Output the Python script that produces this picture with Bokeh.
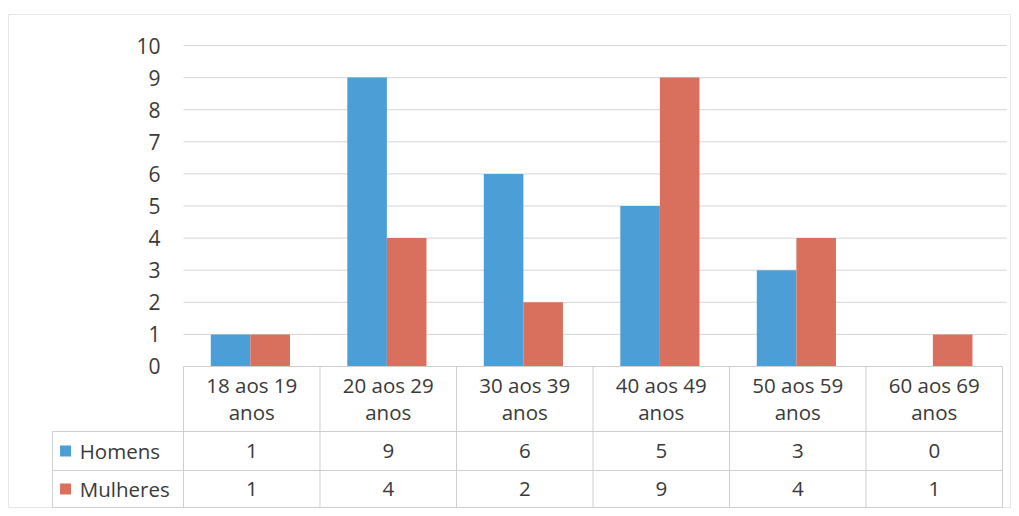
from bokeh.plotting import figure
from bokeh.models import ColumnDataSource, Range1d
from bokeh.core.properties import value
from bokeh.embed import file_html
from bokeh.resources import INLINE

# ---- data ----
categories = ["18 aos 19\nanos", "20 aos 29\nanos", "30 aos 39\nanos",
              "40 aos 49\nanos", "50 aos 59\nanos", "60 aos 69\nanos"]
series_names = ["Homens", "Mulheres"]
homens = [1, 9, 6, 5, 3, 0]
mulheres = [1, 4, 2, 9, 4, 1]
y_ticks = [0, 1, 2, 3, 4, 5, 6, 7, 8, 9, 10]

# ---- style ----
BLUE = "#4B9FD6"
RED = "#D9705E"
TXT = "#3a3a3a"
GRID = "#d6d6d6"
BORDER = "#cfcfcf"
FONT = value("Open Sans")
FS = "20.5px"

n = len(categories)
BAR_W = 0.29
CENTER = 0.49

# table geometry (in data units)
ROW1 = -2.025
ROW2 = -3.24
ROW3 = -4.39
LEFT = -0.96

p = figure(width=1011, height=508, output_backend="svg", toolbar_location=None,
           x_range=Range1d(-1.282, 6.066), y_range=Range1d(-4.424, 10.966),
           x_axis_type=None, y_axis_type=None,
           min_border_left=8, min_border_right=0, min_border_top=14, min_border_bottom=0)
p.grid.visible = False
p.outline_line_color = "#e6e6e6"
p.background_fill_color = "white"
p.border_fill_color = "white"

idx = list(range(n))

# gridlines
gy = [t for t in y_ticks if t > 0]
p.segment(x0=[0] * len(gy), x1=[n + 0.03] * len(gy), y0=gy, y1=gy,
          line_color=GRID, line_width=1)

# bars
src = ColumnDataSource(dict(
    xb=[i + CENTER - BAR_W / 2 for i in idx],
    xr=[i + CENTER + BAR_W / 2 for i in idx],
    h=homens, m=mulheres))
p.vbar(x="xb", top="h", bottom=0, width=BAR_W, source=src,
       fill_color=BLUE, line_color=None)
p.vbar(x="xr", top="m", bottom=0, width=BAR_W, source=src,
       fill_color=RED, line_color=None)

# y tick labels
p.text(x=[-0.168] * len(y_ticks), y=y_ticks, text=[str(t) for t in y_ticks],
       text_font=FONT, text_font_size="21px", text_color=TXT,
       text_align="right", text_baseline="middle")

# table lines
hy = [0, ROW1, ROW2, ROW3]
hx0 = [0, LEFT, LEFT, LEFT]
p.segment(x0=hx0, x1=[n] * 4, y0=hy, y1=hy, line_color=BORDER, line_width=1)
p.segment(x0=idx + [n], x1=idx + [n], y0=[0] * (n + 1), y1=[ROW3] * (n + 1),
          line_color=BORDER, line_width=1)
p.segment(x0=[LEFT], x1=[LEFT], y0=[ROW1], y1=[ROW3], line_color=BORDER, line_width=1)

# category labels (two lines each)
line1 = [c.split("\n")[0] for c in categories]
line2 = [c.split("\n")[1] for c in categories]
p.text(x=[i + 0.5 for i in idx], y=[-0.59] * n, text=line1,
       text_font=FONT, text_font_size=FS, text_color=TXT,
       text_align="center", text_baseline="middle")
p.text(x=[i + 0.5 for i in idx], y=[-1.41] * n, text=line2,
       text_font=FONT, text_font_size=FS, text_color=TXT,
       text_align="center", text_baseline="middle")

# table values
r1 = (ROW1 + ROW2) / 2
r2 = (ROW2 + ROW3) / 2
p.text(x=[i + 0.5 for i in idx], y=[r1] * n, text=[str(v) for v in homens],
       text_font=FONT, text_font_size=FS, text_color=TXT,
       text_align="center", text_baseline="middle")
p.text(x=[i + 0.5 for i in idx], y=[r2] * n, text=[str(v) for v in mulheres],
       text_font=FONT, text_font_size=FS, text_color=TXT,
       text_align="center", text_baseline="middle")

# legend keys and names
p.scatter(x=[-0.864, -0.864], y=[r1, r2], marker="square", size=11,
          fill_color=[BLUE, RED], line_color=None)
p.text(x=[-0.76, -0.76], y=[r1, r2], text=series_names,
       text_font=FONT, text_font_size=FS, text_color=TXT,
       text_align="left", text_baseline="middle")

open("out.html", "w").write(file_html(p, INLINE))
